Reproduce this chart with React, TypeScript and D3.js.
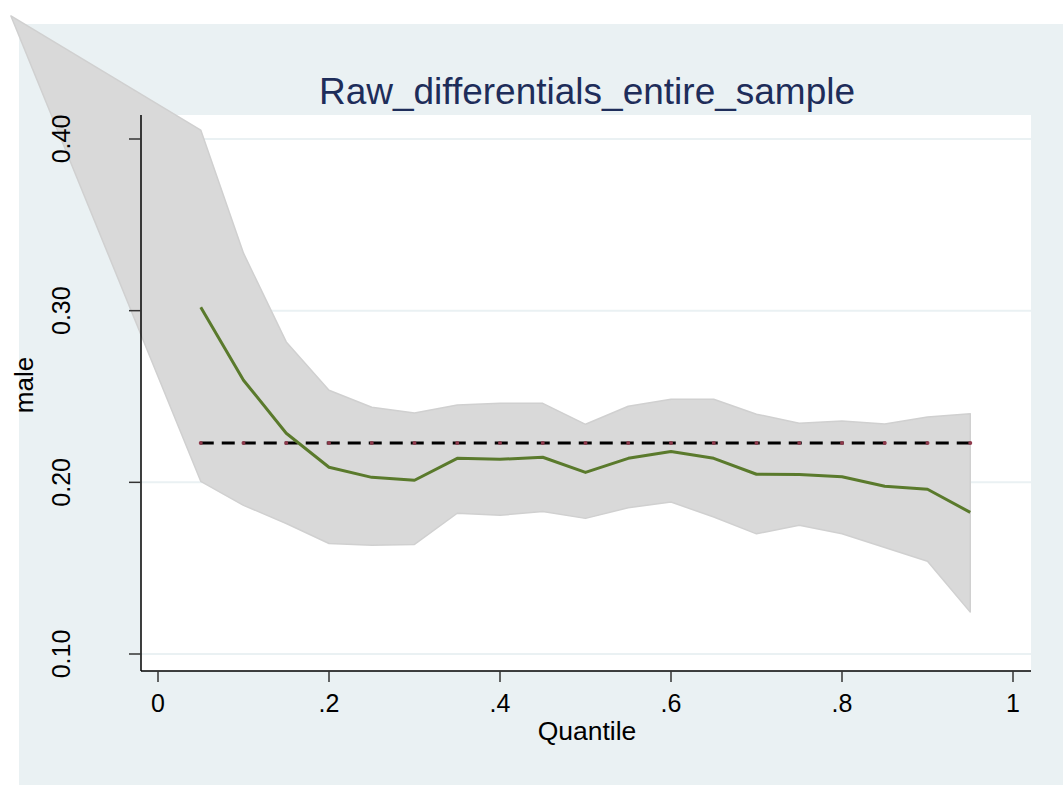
import React from "react";
import * as d3 from "d3";

// quantiles estimated
const quantiles = [0.05, 0.1, 0.15, 0.2, 0.25, 0.3, 0.35, 0.4, 0.45, 0.5, 0.55, 0.6, 0.65, 0.7, 0.75, 0.8, 0.85, 0.9, 0.95];
const coef = [0.302, 0.2595, 0.2286, 0.2088, 0.2029, 0.2012, 0.214, 0.2134, 0.2146, 0.2058, 0.214, 0.218, 0.214, 0.2047, 0.2045, 0.2033, 0.1977, 0.196, 0.1825];
const upper = [0.4052, 0.3335, 0.2818, 0.2536, 0.2437, 0.2404, 0.245, 0.246, 0.246, 0.2338, 0.2443, 0.2484, 0.2484, 0.2397, 0.2344, 0.2357, 0.234, 0.238, 0.240];
const lower = [0.2006, 0.1866, 0.176, 0.1644, 0.1633, 0.1638, 0.182, 0.1808, 0.183, 0.179, 0.1852, 0.1885, 0.1798, 0.170, 0.175, 0.170, 0.162, 0.154, 0.1244];
// stray point the band polygon starts from (off the plot)
const bandStart = { q: -0.172, v: 0.4717 };
const olsValue = 0.2229;

const xTicks = [0, 0.2, 0.4, 0.6, 0.8, 1];
const xTickLabels = ["0", ".2", ".4", ".6", ".8", "1"];
const yTicks = [0.1, 0.2, 0.3, 0.4];
const yTickLabels = ["0.10", "0.20", "0.30", "0.40"];

const W = 1063;
const H = 785;
const plot = { left: 141, right: 1031, top: 115, bottom: 671 };
const font = "'Liberation Sans', Arial, sans-serif";

export default function App() {
  const x = d3.scaleLinear().domain([0, 1]).range([158, 1013]);
  const y = d3.scaleLinear().domain([0.1, 0.4]).range([654, 139]);

  const band = [
    { q: bandStart.q, hi: bandStart.v, lo: bandStart.v },
    ...quantiles.map((q, i) => ({ q, hi: upper[i], lo: lower[i] })),
  ];
  const area = d3.area<{ q: number; hi: number; lo: number }>()
    .x(d => x(d.q))
    .y0(d => y(d.lo))
    .y1(d => y(d.hi));

  const line = d3.line<number>()
    .x((d, i) => x(quantiles[i]))
    .y(d => y(d));

  return (
    <svg width={W} height={H} style={{ position: "absolute", left: 0, top: 0 }} fontFamily={font}>
      <rect x={0} y={0} width={W} height={H} fill="#fff" />
      <rect x={19} y={24} width={W - 19} height={H - 24} fill="#EAF1F3" />
      <rect x={plot.left} y={plot.top} width={plot.right - plot.left} height={plot.bottom - plot.top} fill="#fff" />

      {yTicks.map(t => (
        <line key={t} x1={plot.left} x2={plot.right} y1={y(t)} y2={y(t)} stroke="#EAF1F3" strokeWidth={2} />
      ))}

      <path d={area(band) || ""} fill="#D9D9D9" stroke="#D0D0D0" strokeWidth={1.5} strokeLinejoin="round" />

      <line x1={x(quantiles[0])} x2={x(quantiles[quantiles.length - 1])} y1={y(olsValue)} y2={y(olsValue)}
        stroke="#000" strokeWidth={3} strokeDasharray="13 8" />
      {quantiles.map(q => (
        <circle key={q} cx={x(q)} cy={y(olsValue)} r={2} fill="#8E3A4C" />
      ))}

      <path d={line(coef) || ""} fill="none" stroke="#5A7A2C" strokeWidth={3} strokeLinejoin="round" />

      <line x1={plot.left} x2={plot.left} y1={plot.top} y2={plot.bottom} stroke="#000" strokeWidth={1.5} />
      <line x1={plot.left} x2={plot.right} y1={plot.bottom} y2={plot.bottom} stroke="#000" strokeWidth={1.5} />

      {yTicks.map((t, i) => (
        <g key={t}>
          <line x1={plot.left - 12} x2={plot.left} y1={y(t)} y2={y(t)} stroke="#333" strokeWidth={1.5} />
          <text transform={`translate(70,${y(t)}) rotate(-90)`} textAnchor="middle" fontSize={25} fill="#000">
            {yTickLabels[i]}
          </text>
        </g>
      ))}
      {xTicks.map((t, i) => (
        <g key={t}>
          <line x1={x(t)} x2={x(t)} y1={plot.bottom} y2={plot.bottom + 11} stroke="#333" strokeWidth={1.5} />
          <text x={x(t)} y={712} textAnchor="middle" fontSize={25} fill="#000">{xTickLabels[i]}</text>
        </g>
      ))}

      <text x={587} y={740} textAnchor="middle" fontSize={26.5} fill="#000">Quantile</text>
      <text transform="translate(33,385) rotate(-90)" textAnchor="middle" fontSize={26} fill="#000">male</text>
      <text x={587} y={104} textAnchor="middle" fontSize={37} fill="#1E2D5A">Raw_differentials_entire_sample</text>
    </svg>
  );
}
